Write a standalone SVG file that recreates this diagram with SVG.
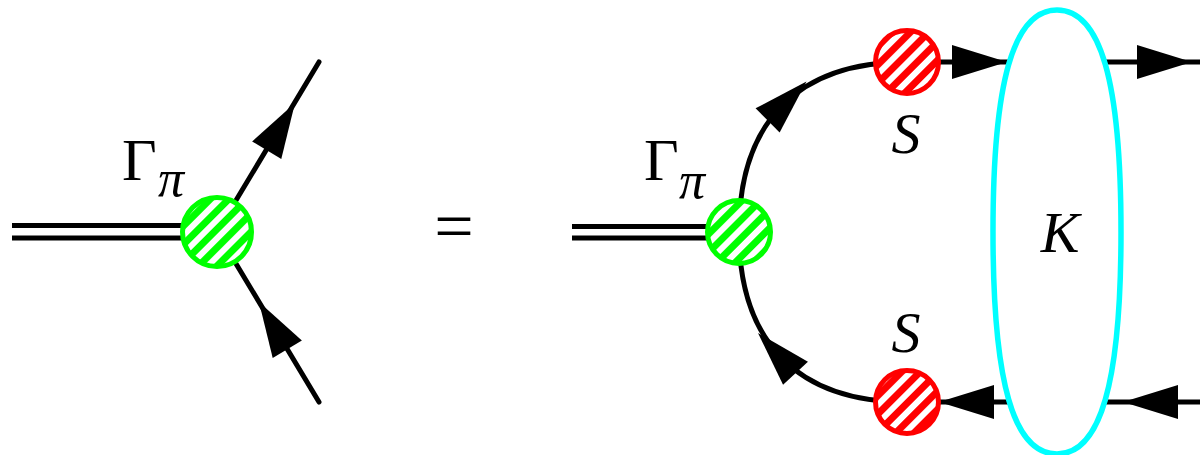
<svg xmlns="http://www.w3.org/2000/svg" xmlns:xlink="http://www.w3.org/1999/xlink" width="1200" height="455" viewBox="0 0 1200 455">
<style>
.ln{fill:none;stroke:#000;stroke-width:5;stroke-linecap:round}
.dbl{fill:none;stroke:#000;stroke-width:5}
.ah{fill:#000}
.gv{fill:url(#hg);stroke:#00ff00;stroke-width:5}
.rv{fill:url(#hr);stroke:#ff0000;stroke-width:5}
.kern{fill:#fff;stroke:#00ffff;stroke-width:5.5}
.m{font-family:"Liberation Serif",serif;font-style:italic;font-size:58px;fill:#000}
.up{font-family:"Liberation Serif",serif;font-size:60px;fill:#000}
</style>
<defs>
<pattern id="hg" patternUnits="userSpaceOnUse" width="13" height="13" patternTransform="rotate(45)">
<rect width="13" height="13" fill="#fff"/><rect width="7" height="13" fill="#00ff00"/>
</pattern>
<pattern id="hr" patternUnits="userSpaceOnUse" width="13" height="13" patternTransform="rotate(45)">
<rect width="13" height="13" fill="#fff"/><rect width="7" height="13" fill="#ff0000"/>
</pattern>
<path id="arr" d="M0,0 L-55,-17 L-55,17 Z"/>
</defs>
<rect width="1200" height="455" fill="#fff"/>
<g id="connectors">
<line class="dbl" x1="12" y1="225.5" x2="205" y2="225.5"/>
<line class="dbl" x1="12" y1="238" x2="205" y2="238"/>
<line class="ln" x1="217" y1="232" x2="319" y2="62"/>
<line class="ln" x1="217" y1="232" x2="319" y2="402"/>
<use href="#arr" class="ah" transform="translate(295,103) rotate(-59.04)"/>
<use href="#arr" class="ah" transform="translate(259,302) rotate(-120.96)"/>
<line class="dbl" x1="572" y1="226.5" x2="725" y2="226.5"/>
<line class="dbl" x1="572" y1="238" x2="725" y2="238"/>
<path class="ln" d="M739,232 C739,121.5 797.8,62 907,62"/>
<path class="ln" d="M739,232 C739,342.5 797.8,402 907,402"/>
<use href="#arr" class="ah" transform="translate(806.5,81.5) rotate(-45)"/>
<use href="#arr" class="ah" transform="translate(758,333) rotate(-133)"/>
<line class="ln" x1="907" y1="62" x2="1205" y2="62"/>
<line class="ln" x1="907" y1="402" x2="1205" y2="402"/>
<use href="#arr" class="ah" transform="translate(1007,62)"/>
<use href="#arr" class="ah" transform="translate(1192,62)"/>
<use href="#arr" class="ah" transform="translate(939,402) rotate(180)"/>
<use href="#arr" class="ah" transform="translate(1123,402) rotate(180)"/>
</g>
<g id="vertex-left">
<circle class="gv" cx="217" cy="232" r="34.5"/>
<text class="up" x="122" y="180">Γ</text>
<text class="m" x="158" y="196" style="font-size:52px">π</text>
</g>
<text id="equals" class="up" x="454" y="250" text-anchor="middle" style="font-size:70px">=</text>
<g id="vertex-right">
<circle class="gv" cx="739" cy="232" r="31.5"/>
<text class="up" x="644" y="180">Γ</text>
<text class="m" x="679" y="198" style="font-size:52px">π</text>
</g>
<g id="S-top">
<circle class="rv" cx="907" cy="62" r="31.5"/>
<text class="m" x="906" y="153" text-anchor="middle">S</text>
</g>
<g id="S-bottom">
<circle class="rv" cx="907" cy="402" r="31.5"/>
<text class="m" x="906" y="352" text-anchor="middle">S</text>
</g>
<g id="K">
<path class="kern" d="M1057,10 C1100.5,10 1121,81 1121,232 C1121,383 1100.5,454 1057,454 C1013.5,454 993,383 993,232 C993,81 1013.5,10 1057,10 Z"/>
<text class="m" x="1060" y="252" text-anchor="middle">K</text>
</g>
</svg>
